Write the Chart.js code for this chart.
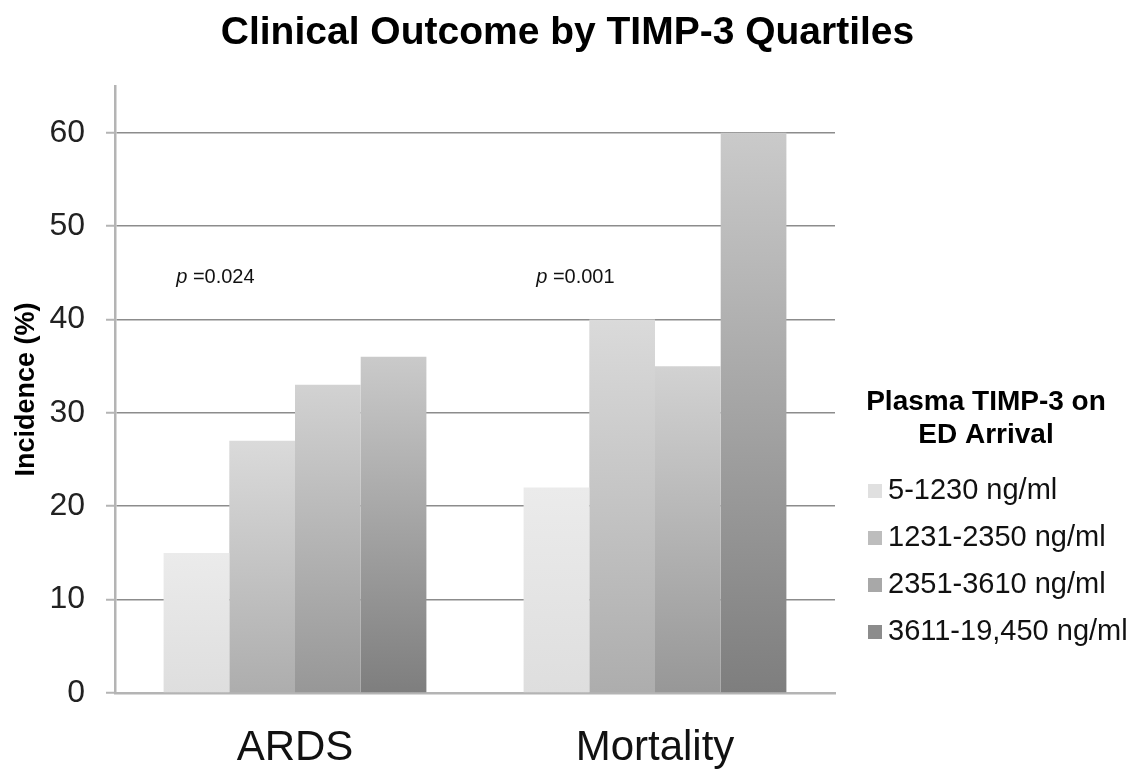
<!DOCTYPE html>
<html>
<head>
<meta charset="utf-8">
<title>Clinical Outcome by TIMP-3 Quartiles</title>
<script src="https://cdn.jsdelivr.net/npm/chart.js@4.4.1/dist/chart.umd.min.js"></script>
<style>
  html, body { margin: 0; padding: 0; background: #ffffff; }
  #wrap { width: 1135px; height: 770px; }
</style>
</head>
<body>
<div id="wrap"><canvas id="outcomeChart" width="1135" height="770"></canvas></div>
<script>
// Data
const categories = ['ARDS', 'Mortality'];
const quartileLabels = ['5-1230 ng/ml', '1231-2350 ng/ml', '2351-3610 ng/ml', '3611-19,450 ng/ml'];
const q1Values = [15, 22];
const q2Values = [27, 40];
const q3Values = [33, 35];
const q4Values = [36, 60];
const pValues = ['0.024', '0.001'];
const pValueLevel = 44.5;
const chartTitle = 'Clinical Outcome by TIMP-3 Quartiles';
const legendTitle = ['Plasma TIMP-3 on', 'ED Arrival'];

const FONT = "'Liberation Sans', Arial, Helvetica, sans-serif";
Chart.defaults.font.family = FONT;

// top / bottom shade of each quartile's gradient
const shades = [
  ['#ebebeb', '#dedede'],
  ['#dadada', '#adadad'],
  ['#d2d2d2', '#979797'],
  ['#cacaca', '#7e7e7e']
];
const swatchColors = ['#e0e0e0', '#bdbdbd', '#a8a8a8', '#8c8c8c'];

// Vertical gradient over the bar's own height
function barFill(i) {
  return (context) => {
    const chart = context.chart;
    if (context.type !== 'data' || !chart.chartArea) return swatchColors[i];
    const yScale = chart.scales.y;
    const top = yScale.getPixelForValue(context.raw);
    const base = yScale.getPixelForValue(0);
    const g = chart.ctx.createLinearGradient(0, top, 0, base);
    g.addColorStop(0, shades[i][0]);
    g.addColorStop(1, shades[i][1]);
    return g;
  };
}

// Title over the full width, p-values and the legend block on the right
const overlayPlugin = {
  id: 'overlayText',
  afterDraw(chart) {
    const { ctx, chartArea, scales } = chart;
    const xs = scales.x;
    const ys = scales.y;
    const catWidth = xs.getPixelForValue(1) - xs.getPixelForValue(0);

    ctx.save();
    ctx.textBaseline = 'middle';

    // chart title, centred on the whole figure
    ctx.textAlign = 'center';
    ctx.fillStyle = '#000';
    ctx.font = `bold 39px ${FONT}`;
    ctx.fillText(chartTitle, chart.width / 2, 33);

    ctx.textAlign = 'left';
    ctx.fillStyle = '#111';
    pValues.forEach((txt, i) => {
      const x = xs.getPixelForValue(i) - 0.33 * catWidth;
      const y = ys.getPixelForValue(pValueLevel);
      ctx.font = `italic 20px ${FONT}`;
      ctx.fillText('p', x, y);
      const w = ctx.measureText('p').width;
      ctx.font = `20px ${FONT}`;
      ctx.fillText(' =' + txt, x + w, y);
    });

    // legend
    const left = chartArea.right;
    ctx.textAlign = 'center';
    ctx.font = `bold 28px ${FONT}`;
    ctx.fillStyle = '#000';
    legendTitle.forEach((line, i) => {
      ctx.fillText(line, left + 151, 402 + i * 33);
    });

    ctx.textAlign = 'left';
    ctx.font = `29px ${FONT}`;
    chart.data.datasets.forEach((ds, i) => {
      const y = 491 + i * 47;
      ctx.fillStyle = swatchColors[i];
      ctx.fillRect(left + 33, y - 7, 14, 14);
      ctx.fillStyle = '#111';
      ctx.fillText(ds.label, left + 53, y);
    });
    ctx.restore();
  }
};

const seriesValues = [q1Values, q2Values, q3Values, q4Values];

const chart = new Chart(document.getElementById('outcomeChart').getContext('2d'), {
  type: 'bar',
  data: {
    labels: categories,
    datasets: seriesValues.map((vals, i) => ({
      label: quartileLabels[i],
      data: vals,
      backgroundColor: barFill(i),
      borderWidth: 0,
      categoryPercentage: 0.73,
      barPercentage: 1.0
    }))
  },
  options: {
    responsive: false,
    animation: false,
    layout: { padding: { top: 86, right: 300, bottom: 0, left: 0 } },
    plugins: {
      legend: { display: false },
      tooltip: { enabled: false },
      title: { display: false }
    },
    scales: {
      x: {
        grid: { display: false, drawTicks: false },
        border: { color: '#b4b4b4', width: 2.5 },
        ticks: { color: '#111', font: { size: 42 }, padding: 30 },
        afterFit: (scale) => { scale.height = 77; }
      },
      y: {
        min: 0,
        max: 65,
        ticks: { stepSize: 10, includeBounds: false, color: '#222', font: { size: 32 }, padding: 21 },
        grid: { color: '#8c8c8c', lineWidth: 1.5, tickLength: 9, tickColor: '#b4b4b4', tickWidth: 2 },
        border: { color: '#b4b4b4', width: 2.5 },
        title: {
          display: true,
          text: 'Incidence (%)',
          color: '#000',
          font: { size: 27, weight: 'bold' },
          padding: { top: 10, bottom: 0 }
        },
        afterFit: (scale) => { scale.width = 115; }
      }
    }
  },
  plugins: [overlayPlugin]
});
</script>
</body>
</html>
